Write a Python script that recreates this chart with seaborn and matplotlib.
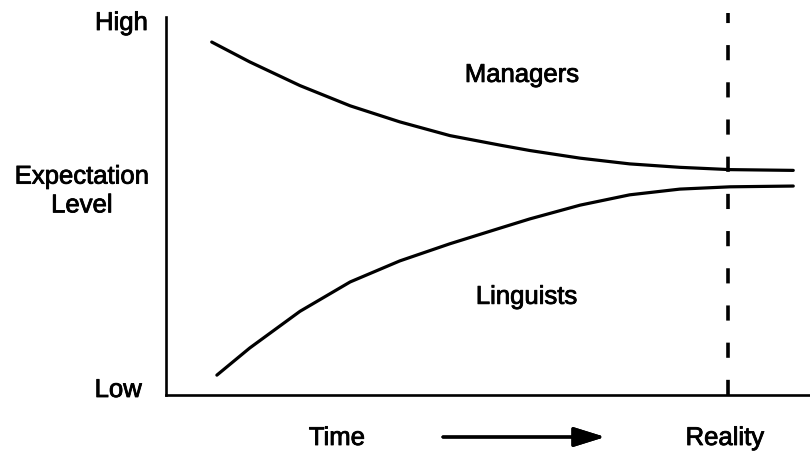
import pandas as pd
import matplotlib.pyplot as plt
import matplotlib.patheffects as pe
import seaborn as sns

# Curves (time 0-100, expectation 0-100)
time_points = [7.1, 13.0, 20.8, 28.6, 36.3, 44.1, 51.9, 56.5, 64.3, 72.0, 79.8, 87.6, 97.4]
managers = [92.4, 87.2, 81.0, 75.7, 71.5, 67.9, 65.4, 64.0, 62.0, 60.5, 59.6, 59.0, 58.8]
linguists = [5.2, 12.3, 21.9, 29.6, 35.1, 39.6, 43.7, 46.1, 49.7, 52.4, 53.9, 54.5, 54.7]
linguists_start = 7.9
reality_time = 87.3

time_linguists = [linguists_start] + time_points[1:]
df_m = pd.DataFrame({'Time': time_points, 'Expectation': managers})
df_l = pd.DataFrame({'Time': time_linguists, 'Expectation': linguists})

sns.set_theme(style='white')
plt.rcParams['font.family'] = ['Liberation Sans', 'DejaVu Sans']
plt.rcParams['text.color'] = 'black'

fig = plt.figure(figsize=(8.1, 4.53), dpi=100)
ax = fig.add_axes([166 / 810, 58 / 453, 644 / 810, 382 / 453])

for d in [df_m, df_l]:
    sns.lineplot(x='Time', y='Expectation', data=d, color='black', linewidth=2.3, ax=ax,
                 solid_joinstyle='round', solid_capstyle='round')
ax.axvline(reality_time, ymin=0, ymax=1.0, color='black', linewidth=2.6, dashes=(4.2, 6.1))

ax.set_xlim(0, 100)
ax.set_ylim(0, 100)
ax.set_xticks([])
ax.set_yticks([])
ax.set_xlabel('')
ax.set_ylabel('')
for side in ['top', 'right']:
    ax.spines[side].set_visible(False)
for side in ['left', 'bottom']:
    ax.spines[side].set_color('black')
    ax.spines[side].set_linewidth(1.9)
ax.spines['left'].set_bounds(0, 99)

fx = [pe.withStroke(linewidth=0.6, foreground='black')]
fs = 18.5
ax.text(55.3, 83.8, 'Managers', fontsize=fs, ha='center', va='center', path_effects=fx)
ax.text(56.0, 25.7, 'Linguists', fontsize=fs, ha='center', va='center', path_effects=fx)

# Labels outside the axes
fig.text(148 / 810, 1 - 23 / 453, 'High', fontsize=fs, ha='right', va='center', path_effects=fx)
fig.text(82 / 810, 1 - 191 / 453, 'Expectation\nLevel', fontsize=fs, ha='center', va='center',
         linespacing=1.25, path_effects=fx)
fig.text(142 / 810, 1 - 390 / 453, 'Low', fontsize=fs, ha='right', va='center', path_effects=fx)
fig.text(337 / 810, 1 - 438 / 453, 'Time', fontsize=fs, ha='center', va='center', path_effects=fx)
fig.text(725 / 810, 1 - 438 / 453, 'Reality', fontsize=fs, ha='center', va='center', path_effects=fx)
fig.add_artist(plt.annotate('', xy=(605 / 810, 1 - 437 / 453), xytext=(443 / 810, 1 - 437 / 453),
                            xycoords='figure fraction',
                            arrowprops=dict(arrowstyle='-|>,head_length=1.6,head_width=0.5',
                                            color='black', lw=2.3, shrinkA=0, shrinkB=0)))

plt.savefig('out.png', dpi=100)
